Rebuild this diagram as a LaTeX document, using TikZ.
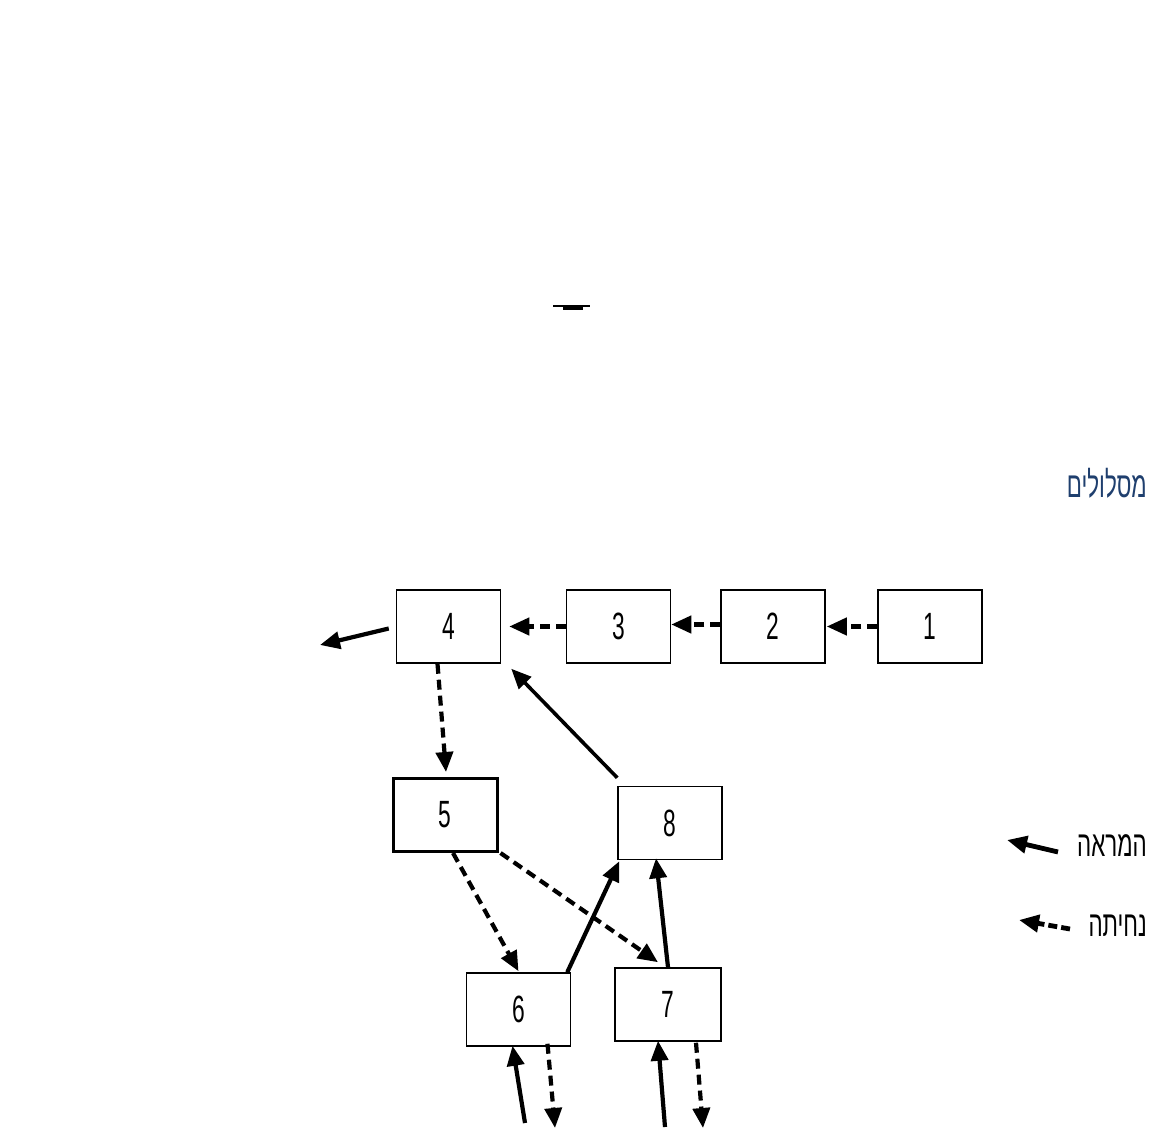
\documentclass[tikz,border=0pt]{standalone}
\usepackage{fontspec}
\usetikzlibrary{arrows.meta}
\TeXXeTstate=1
\newfontfamily\narrowfont[FakeStretch=0.6]{Liberation Sans}
\newfontfamily\hebfont[Script=Hebrew,FakeStretch=0.62]{Liberation Sans}
\definecolor{titleblue}{HTML}{1F3F6E}
\tikzset{
  boxnode/.style={draw, line width=1.5pt, minimum width=104pt, minimum height=73pt, inner sep=0pt, font=\narrowfont\fontsize{38}{38}\selectfont},
  tipstyle/.style={-{Triangle[length=20pt,width=17pt]}},
  solidarr/.style={line width=4.2pt, tipstyle},
  dasharr/.style={line width=4.2pt, dash pattern=on 10pt off 6pt, tipstyle},
  hebtext/.style={inner sep=0pt, anchor=east, font=\hebfont\fontsize{36}{36}\selectfont},
}
\begin{document}
\begin{tikzpicture}[x=1pt,y=-1pt]
\useasboundingbox[fill=white] (0,0) rectangle (1149,1142);

% boxes
\node[boxnode] (n4) at (448.5,626.5) {4};
\node[boxnode] (n3) at (618.5,626.5) {3};
\node[boxnode] (n2) at (773,626.5) {2};
\node[boxnode] (n1) at (930,626.5) {1};
\node[boxnode, line width=3pt] (n5) at (445,815) {5};
\node[boxnode] (n8) at (670,823) {8};
\node[boxnode] (n6) at (518.5,1009.5) {6};
\node[boxnode, minimum width=106pt] (n7) at (668,1004.5) {7};

% top row
\draw[dasharr] (n1.west) -- ([xshift=1pt]n2.east);
\draw[dasharr] ([yshift=2pt]n2.west) -- ([yshift=2pt]n3.east);
\draw[dasharr] (n3.west) -- ([xshift=8pt]n4.east);
\coordinate (out4) at (320,645);
\draw[solidarr] ([xshift=-7pt,yshift=-2pt]n4.west) -- (out4);

% middle
\draw[dasharr] ([xshift=-11pt]n4.south) -- ([xshift=1pt,yshift=5pt]n5.north);
\draw[solidarr, line width=3.6pt] ([yshift=8pt]n8.north west) -- ([xshift=10pt,yshift=-5pt]n4.south east);
\draw[dasharr] ([xshift=8pt]n5.south) -- ([yshift=1pt]n6.north);
\draw[dasharr] ([xshift=2pt]n5.south east) -- ([xshift=-10pt,yshift=5pt]n7.north);
\draw[solidarr] ([xshift=-4pt]n6.north east) -- ([xshift=2pt,yshift=-1pt]n8.south west);
\draw[solidarr] (n7.north) -- ([xshift=-14pt,yshift=2pt]n8.south);

% bottom
\coordinate (in6) at (525,1123);
\coordinate (out6) at (555,1128);
\coordinate (in7) at (665,1127);
\coordinate (out7) at (703,1128);
\draw[solidarr] (in6) -- ([xshift=-6pt,yshift=1pt]n6.south);
\draw[dasharr] ([xshift=29pt,yshift=3pt]n6.south) -- (out6);
\draw[solidarr] (in7) -- ([xshift=-10pt,yshift=1pt]n7.south);
\draw[dasharr] ([xshift=28pt,yshift=-1pt]n7.south) -- (out7);

% stray dash
\draw[line width=1.2pt] (553,306) -- (590,306);
\draw[line width=4pt] (563,308) -- (583,308);

% title
\node[hebtext, text=titleblue] (title) at (1147,483) {\beginR מסלולים\endR};

% legend
\node[hebtext] (leg1) at (1147,846) {\beginR המראה\endR};
\coordinate (l1s) at (1058,852);
\coordinate (l1e) at (1007,840);
\draw[solidarr, line width=4.8pt] (l1s) -- (l1e);
\node[hebtext] (leg2) at (1147,926) {\beginR נחיתה\endR};
\coordinate (l2s) at (1070,929);
\coordinate (l2e) at (1019,920);
\draw[line width=4.8pt, dash pattern=on 9pt off 4pt, tipstyle] (l2s) -- (l2e);
\end{tikzpicture}
\end{document}
